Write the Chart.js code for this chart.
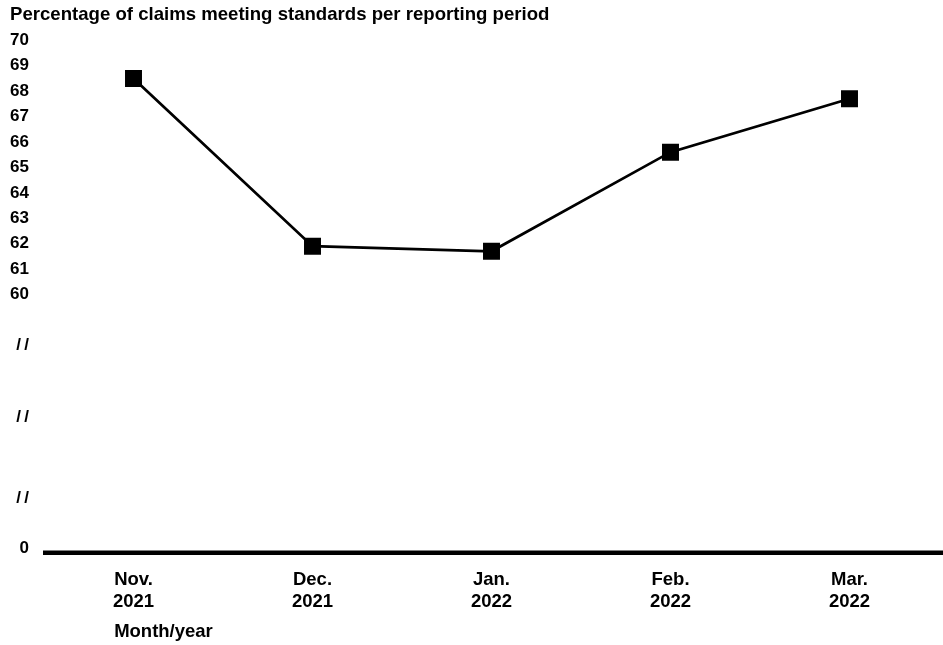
<!DOCTYPE html>
<html>
<head>
<meta charset="utf-8">
<script src="https://cdn.jsdelivr.net/npm/chart.js@4/dist/chart.umd.min.js"></script>
<style>
  html, body { margin: 0; padding: 0; background: #fff; }
  #wrap { width: 943px; height: 645px; position: relative; }
</style>
</head>
<body>
<div id="wrap"><canvas id="c" width="943" height="645"></canvas></div>
<script>
// ---- Data ----
const categories = [['Nov.', '2021'], ['Dec.', '2021'], ['Jan.', '2022'], ['Feb.', '2022'], ['Mar.', '2022']];
const percentMeetingStandards = [68.5, 61.9, 61.7, 65.6, 67.7];
// Upper axis segment ticks (60–70), break markers and the zero baseline
const upperTicks = [60, 61, 62, 63, 64, 65, 66, 67, 68, 69, 70];
const breakTicks = [52, 55.15, 58];   // positions of "//" break marks on the compressed scale
const zeroTick = 50;                  // compressed-scale position that is labelled "0"

const chartTitle = 'Percentage of claims meeting standards per reporting period';
const xAxisTitle = 'Month/year';

const FONT = "'Liberation Sans', Arial, Helvetica, sans-serif";

const decorPlugin = {
  id: 'decor',
  afterDraw(chart) {
    const { ctx, chartArea, scales } = chart;
    ctx.save();
    // thick baseline
    ctx.fillStyle = '#000';
    ctx.fillRect(chartArea.left - 1, chartArea.bottom - 2, chart.width - chartArea.left + 1, 4.5);
    // x axis title, left aligned with first label
    ctx.font = 'bold 18.5px ' + FONT;
    const firstW = ctx.measureText('Nov.').width;
    const x0 = scales.x.getPixelForValue(0) - firstW / 2;
    ctx.textBaseline = 'middle';
    ctx.textAlign = 'left';
    ctx.fillText(xAxisTitle, x0, 632);
    ctx.restore();
  }
};

new Chart(document.getElementById('c'), {
  type: 'line',
  data: {
    labels: categories,
    datasets: [{
      data: percentMeetingStandards,
      borderColor: '#000',
      borderWidth: 2.75,
      backgroundColor: '#000',
      pointStyle: 'rect',
      pointRadius: 12,
      pointHoverRadius: 12,
      pointBorderWidth: 0,
      pointBackgroundColor: '#000',
      tension: 0,
      fill: false
    }]
  },
  options: {
    responsive: false,
    animation: false,
    events: [],
    layout: { autoPadding: false, padding: { left: 10, right: 4, top: 0, bottom: 0 } },
    plugins: {
      legend: { display: false },
      tooltip: { enabled: false },
      title: {
        display: true,
        text: chartTitle,
        align: 'start',
        color: '#000',
        font: { family: FONT, size: 18.6, weight: 'bold' },
        padding: { top: 4, bottom: 14 }
      }
    },
    scales: {
      x: {
        type: 'category',
        offset: true,
        grid: { display: false, drawTicks: false },
        border: { display: false },
        ticks: {
          color: '#000',
          font: { family: FONT, size: 18.5, weight: 'bold', lineHeight: 1.2 },
          padding: 16,
          maxRotation: 0,
          autoSkip: false
        },
        afterFit(scale) { scale.height = 92.5; }
      },
      y: {
        type: 'linear',
        min: 49.85,
        max: 70,
        grid: { display: false, drawTicks: false },
        border: { display: false },
        afterBuildTicks(scale) {
          scale.ticks = [zeroTick, ...breakTicks, ...upperTicks].map(v => ({ value: v }));
        },
        afterFit(scale) { scale.width = 34; },
        ticks: {
          color: '#000',
          crossAlign: 'near',
          padding: 15,
          autoSkip: false,
          font: { family: FONT, size: 17, weight: 'bold' },
          callback(value) {
            if (value === zeroTick) return '0';
            if (breakTicks.includes(value)) return '/\u2009/';
            return String(value);
          }
        }
      }
    }
  },
  plugins: [decorPlugin]
});
</script>
</body>
</html>
